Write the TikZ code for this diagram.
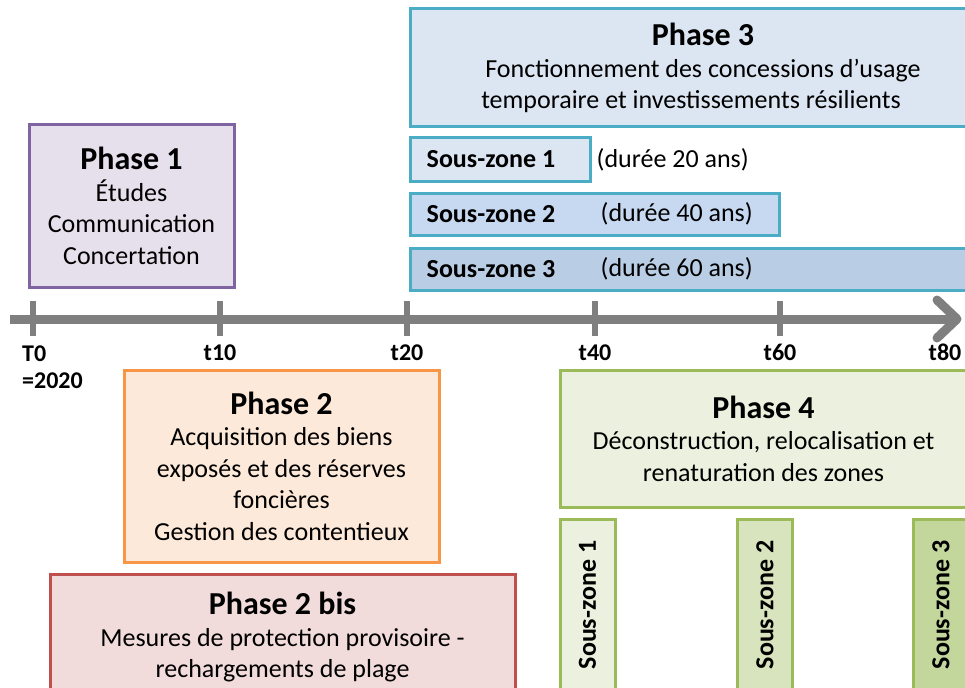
\documentclass[tikz,border=0pt]{standalone}
\usepackage{fontspec}
\setmainfont{Carlito}
\usetikzlibrary{positioning}

\definecolor{greyline}{HTML}{7F7F7F}
\definecolor{violetline}{HTML}{8064A2}
\definecolor{violetfill}{HTML}{E6E0EC}
\definecolor{orangeline}{HTML}{F79646}
\definecolor{orangefill}{HTML}{FDE9D9}
\definecolor{redline}{HTML}{C0504D}
\definecolor{redfill}{HTML}{F2DCDB}
\definecolor{blueline}{HTML}{4BACC6}
\definecolor{bluefillA}{HTML}{DCE6F2}
\definecolor{bluefillB}{HTML}{C6D9F1}
\definecolor{bluefillC}{HTML}{B9CDE5}
\definecolor{greenline}{HTML}{9BBB59}
\definecolor{greenfillA}{HTML}{EBF1DE}
\definecolor{greenfillB}{HTML}{D7E4BD}
\definecolor{greenfillC}{HTML}{C3D69B}

\newcommand{\phasetitle}[1]{{\fontsize{32}{36}\selectfont\bfseries #1}}

\begin{document}
\begin{tikzpicture}[x=1pt, y=-1pt,
    base/.style = {rectangle, draw, line width=3pt, inner sep=0pt,
align=center, font=\fontsize{26}{31.5}\selectfont},
    phase/.style = {base},
    zone/.style = {base, font=\fontsize{26}{31}\selectfont\bfseries},
    timeline/.style = {line width=9pt, draw=greyline},
    tick/.style = {line width=6pt, draw=greyline},
    ticklabel/.style = {anchor=base, inner sep=0pt, font=\fontsize{24}{27}\selectfont\bfseries},
    every node/.style={text=black}
]
  \clip (0,0) rectangle (965,687);

  % timeline
  \coordinate (tstart) at (10,319);
  \coordinate (tend)   at (957,319);
  \draw[timeline] (tstart) -- (tend);
  \draw[timeline, line cap=round, line join=round] ([shift={(-20,-19)}]tend) -- (tend) -- ([shift={(-20,19)}]tend);

  \draw[tick] (33,301) -- (33,336);
  \node (T0) [ticklabel, anchor=base west, align=left] at (22,388) {T0\\=2020};
  \foreach \x/\lab in {220/t10, 407/t20, 595/t40, 780/t60}{
    \draw[tick] (\x,301) -- (\x,336);
    \node (\lab) [ticklabel] at (\x,360) {\lab};
  }
  \node (t80) [ticklabel] at (945,360) {t80};

  % phases
  \node (ph1) [phase, draw=violetline, fill=violetfill, minimum width=205, minimum height=162] at (131.5,206)
    {\phasetitle{Phase 1}\\Études\\Communication\\Concertation};
  \node (ph2) [phase, draw=orangeline, fill=orangefill, minimum width=315, minimum height=192] at (281.5,466)
    {\phasetitle{Phase 2}\\Acquisition des biens\\exposés et des réserves\\foncières\\Gestion des contentieux};
  \node (ph2b) [phase, draw=redline, fill=redfill, minimum width=465, minimum height=126] at (282.5,637)
    {\phasetitle{Phase 2 bis}\\Mesures de protection provisoire -\\rechargements de plage};
  \node (ph3) [phase, draw=blueline, fill=bluefillA, minimum width=586, minimum height=118] at (703,68)
    {\phasetitle{Phase 3}\\Fonctionnement des concessions d’usage\hspace*{24pt}\\temporaire et investissements résilients\hspace*{24pt}};
  \node (ph4) [phase, draw=greenline, fill=greenfillA, minimum width=407, minimum height=137] at (763.5,438.5)
    {\phasetitle{Phase 4}\\Déconstruction, relocalisation et\\renaturation des zones};

  % sous-zones phase 3
  \node (sz1) [zone, draw=blueline, fill=bluefillA, minimum width=180, minimum height=43] at (500,159.5) {};
  \node (sz2) [zone, draw=blueline, fill=bluefillB, minimum width=369, minimum height=42] at (594.5,214) {};
  \node (sz3) [zone, draw=blueline, fill=bluefillC, minimum width=586, minimum height=42] at (703,269) {};
  \node (sz1name) [anchor=west, inner sep=0pt, font=\fontsize{26}{31}\selectfont\bfseries] at ([xshift=18]sz1.west) {Sous-zone 1};
  \node (sz2name) [anchor=west, inner sep=0pt, font=\fontsize{26}{31}\selectfont\bfseries] at ([xshift=18]sz2.west) {Sous-zone 2};
  \node (sz3name) [anchor=west, inner sep=0pt, font=\fontsize{26}{31}\selectfont\bfseries] at ([xshift=18]sz3.west) {Sous-zone 3};
  \node (sz1time) [anchor=west, inner sep=0pt, font=\fontsize{26}{31}\selectfont] at ([xshift=188]sz1.west) {(durée 20 ans)};
  \node (sz2time) [anchor=west, inner sep=0pt, font=\fontsize{26}{31}\selectfont] at ([xshift=192]sz2.west) {(durée 40 ans)};
  \node (sz3time) [anchor=west, inner sep=0pt, font=\fontsize{26}{31}\selectfont] at ([xshift=192]sz3.west) {(durée 60 ans)};

  % sous-zones phase 4
  \node (vz1) [zone, rotate=90, draw=greenline, fill=greenfillA, minimum width=172, minimum height=55] at (587.5,605) {Sous-zone 1};
  \node (vz2) [zone, rotate=90, draw=greenline, fill=greenfillB, minimum width=172, minimum height=55] at (765,605) {Sous-zone 2};
  \node (vz3) [zone, rotate=90, draw=greenline, fill=greenfillC, minimum width=172, minimum height=55] at (941,605) {Sous-zone 3};

\end{tikzpicture}
\end{document}
